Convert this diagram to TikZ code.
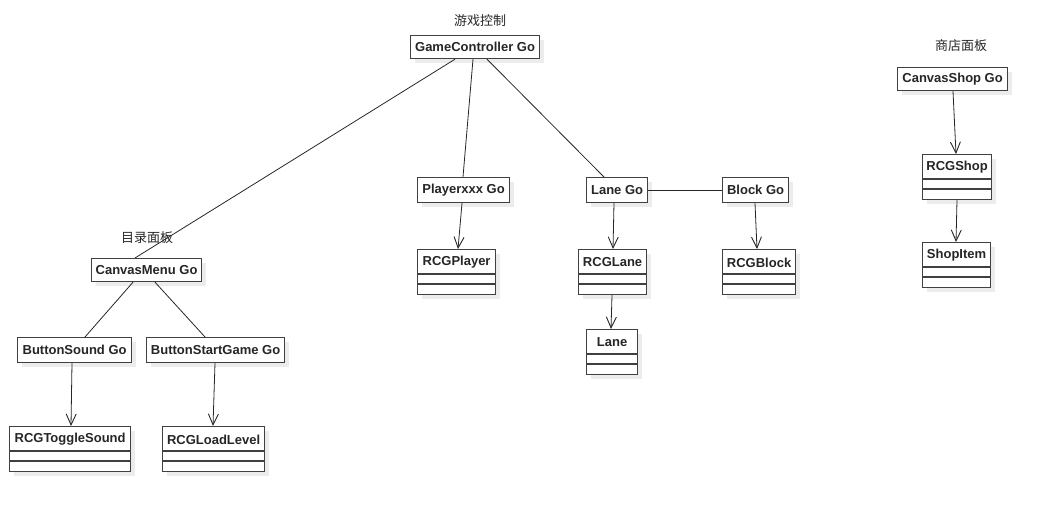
\documentclass[tikz,border=0pt]{standalone}
\usepackage{fontspec}
\setmainfont{Liberation Sans}
\newfontfamily\cjk{Noto Sans CJK SC}
\usetikzlibrary{calc,arrows.meta,shadows}
\tikzset{
  boxline/.style={draw=black!75, line width=1.2pt},
  gobox/.style={boxline, fill=white, rectangle, inner sep=0pt, anchor=north west,
    drop shadow={opacity=0.15, shadow xshift=4pt, shadow yshift=-4pt},
    font=\fontsize{13}{15}\selectfont\bfseries, text=black!85},
  clsbox/.style={boxline, fill=white, rectangle, inner sep=0pt, anchor=north west, minimum height=45pt,
    drop shadow={opacity=0.15, shadow xshift=4pt, shadow yshift=-4pt}},
  clstext/.style={font=\fontsize{13}{15}\selectfont\bfseries, text=black!85, inner sep=0pt},
  cjklabel/.style={font=\cjk\fontsize{13}{15}\selectfont, text=black!85, inner sep=0pt},
  conn/.style={draw=black!85, line width=0.8pt},
  arr/.style={conn, -{Straight Barb[length=11pt,width=10pt,line width=0.9pt]}}
}
\newcommand\gonode[6]{\node[gobox, minimum width={#4-#2}, minimum height={#5-#3}] (#1) at (#2,#3) {#6};}
\newcommand\clsnode[5]{%
  \node[clsbox, minimum width={#4-#2}] (#1) at (#2,#3) {};
  \node[clstext] (#1T) at ($(#1.north)+(0,13.5)$) {#5};
  \draw[boxline] ($(#1.north west)+(0,25)$) -- ($(#1.north east)+(0,25)$);
  \draw[boxline] ($(#1.north west)+(0,35)$) -- ($(#1.north east)+(0,35)$);}
\begin{document}
\begin{tikzpicture}[x=1pt,y=-1pt]
\useasboundingbox (0,0) rectangle (1047,510);
% labels
\node[cjklabel] (lgc) at (480,21) {游戏控制};
\node[cjklabel] (lcm) at (147,238) {目录面板};
\node[cjklabel] (lcs) at (961,46) {商店面板};
% boxes
\gonode{gc}{410}{35}{539}{58}{GameController Go}
\gonode{cm}{91}{258}{201}{281}{CanvasMenu Go}
\gonode{bs}{17}{337}{131}{362}{ButtonSound Go}
\gonode{bsg}{146}{337}{284}{362}{ButtonStartGame Go}
\gonode{px}{417}{177}{509}{202}{Playerxxx Go}
\gonode{lg}{586}{177}{647}{202}{Lane Go}
\gonode{bg}{722}{177}{788}{202}{Block Go}
\gonode{cs}{897}{67}{1007}{90}{CanvasShop Go}
\clsnode{rts}{9}{426}{130}{RCGToggleSound}
\clsnode{rll}{162}{426}{264}{RCGLoadLevel}
\clsnode{rp}{417}{249}{495}{RCGPlayer}
\clsnode{rl}{578}{249}{646}{RCGLane}
\clsnode{rb}{722}{249}{795}{RCGBlock}
\clsnode{ln}{586}{329}{637}{Lane}
\clsnode{rs}{922}{154}{991}{RCGShop}
\clsnode{si}{922}{242}{990}{ShopItem}
% connectors
\draw[conn] ($(gc.south west)+(45,0)$) -- ($(cm.north west)+(44,0)$);
\draw[conn] ($(gc.south west)+(63,0)$) -- ($(px.north west)+(46,0)$);
\draw[conn] ($(gc.south west)+(77,0)$) -- ($(lg.north west)+(18,0)$);
\draw[conn] (lg.east) -- (bg.west);
\draw[conn] ($(cm.south west)+(42,0)$) -- ($(bs.north west)+(68,0)$);
\draw[conn] ($(cm.south west)+(64,0)$) -- ($(bsg.north west)+(59,0)$);
\draw[arr] ($(bs.south west)+(55,0)$) -- ($(rts.north west)+(62,0)$);
\draw[arr] ($(bsg.south west)+(69,0)$) -- ($(rll.north west)+(51,0)$);
\draw[arr] ($(px.south west)+(45,0)$) -- ($(rp.north west)+(41,0)$);
\draw[arr] ($(lg.south west)+(28,0)$) -- ($(rl.north west)+(35,0)$);
\draw[arr] ($(bg.south west)+(33,0)$) -- ($(rb.north west)+(35,0)$);
\draw[arr] ($(rl.south west)+(34,0)$) -- ($(ln.north west)+(25,0)$);
\draw[arr] ($(cs.south west)+(56,0)$) -- ($(rs.north west)+(34,0)$);
\draw[arr] ($(rs.south west)+(35,0)$) -- ($(si.north west)+(34,0)$);
\end{tikzpicture}
\end{document}
